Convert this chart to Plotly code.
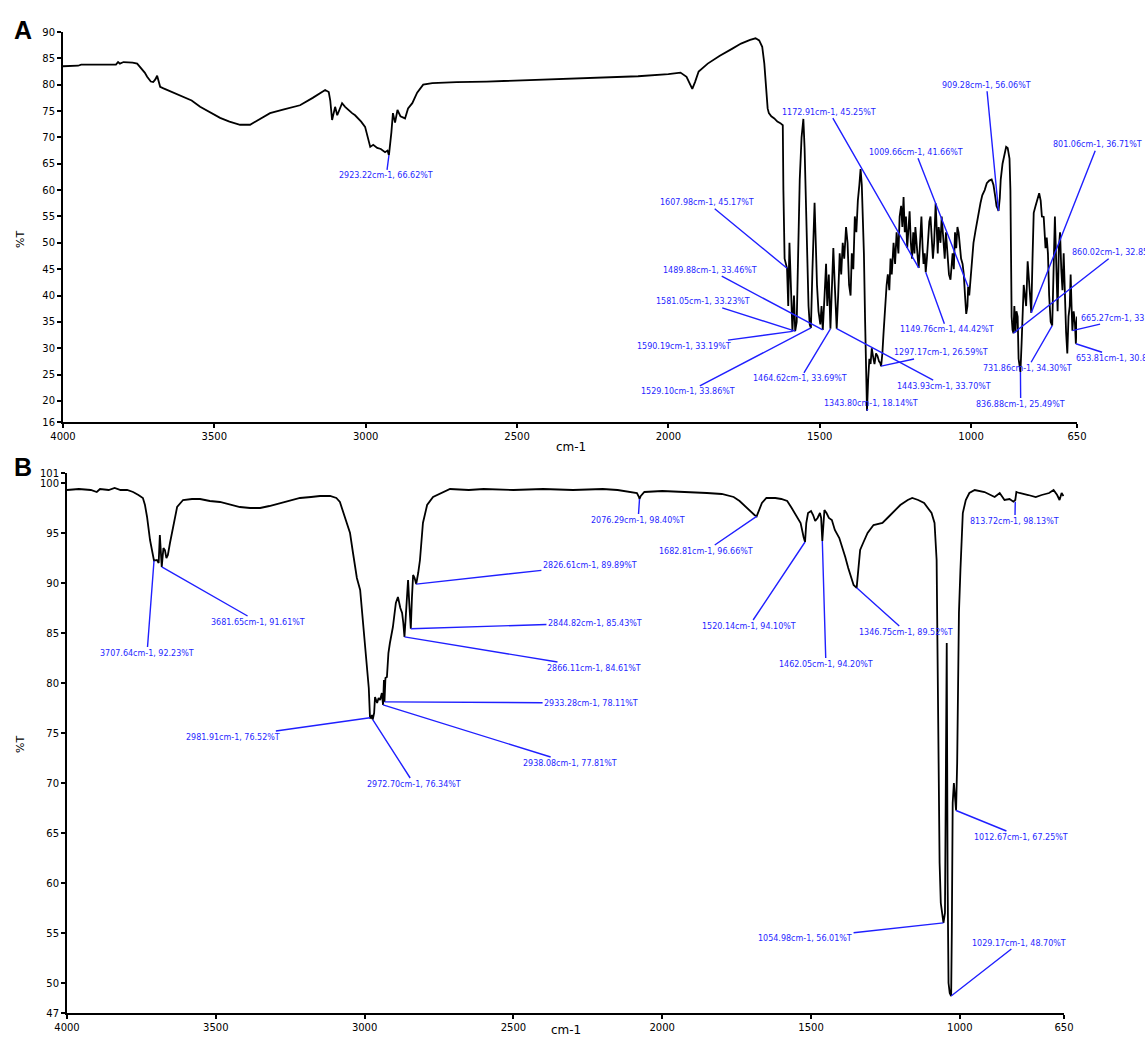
import plotly.graph_objects as go

# ---------------- Spectrum A ----------------
a_wavenumber = [
    4000, 3950, 3940, 3825, 3818, 3812, 3800, 3770, 3755, 3745, 3730, 3722, 3710, 3702, 3695, 3689,
    3683, 3679, 3668, 3656, 3630, 3603, 3575, 3547, 3515, 3481, 3450, 3415, 3382, 3350, 3316, 3270,
    3217, 3175, 3134, 3122, 3117, 3111, 3105, 3101, 3094, 3086, 3078, 3068, 3058, 3045, 3035, 3015,
    3002, 2992, 2985, 2975, 2962, 2950, 2936, 2928, 2923.22, 2915, 2910, 2903, 2895, 2885, 2870, 2860,
    2846, 2830, 2810, 2780, 2700, 2600, 2500, 2400, 2300, 2200, 2100, 2000, 1960, 1940, 1930, 1921,
    1912, 1900, 1870, 1830, 1790, 1760, 1730, 1712, 1700, 1690, 1683, 1678, 1672, 1668, 1660, 1650,
    1640, 1630, 1622, 1620, 1616, 1607.98, 1604, 1600, 1596, 1590.19, 1585, 1581.05, 1576, 1572, 1566,
    1560, 1554, 1550, 1546, 1542, 1537, 1533, 1529.10, 1524, 1520, 1517, 1513, 1509, 1504, 1498, 1494,
    1489.88, 1484, 1479, 1475, 1470, 1464.62, 1459, 1455, 1451, 1447, 1443.93, 1439, 1434, 1429, 1424,
    1419, 1413, 1408, 1403, 1398, 1394, 1389, 1384, 1379, 1374, 1369, 1365, 1361, 1358, 1354, 1350,
    1346, 1343.80, 1340, 1336, 1332, 1328, 1324, 1319, 1314, 1309, 1304, 1300, 1297.17, 1293, 1289,
    1284, 1279, 1275, 1270, 1266, 1262, 1256, 1251, 1246, 1240, 1236, 1231, 1227, 1223, 1219, 1215,
    1211, 1207, 1203, 1199, 1195, 1191, 1187, 1184, 1180, 1176, 1172.91, 1168, 1164, 1160, 1157, 1153,
    1149.76, 1146, 1142, 1138, 1134, 1130, 1126, 1122, 1117, 1113, 1110, 1107, 1101, 1097, 1091, 1087,
    1083, 1078, 1073, 1068, 1064, 1061, 1057, 1053, 1049, 1045, 1041, 1037, 1033, 1028, 1024, 1020,
    1016, 1012, 1009.66, 1006, 1002, 998, 992, 985, 978, 969, 963, 955, 948, 940, 932, 926, 920, 916,
    912, 909.28, 905, 902, 896, 890, 884, 879, 873, 870, 868, 866, 863, 860.02, 857, 853, 850, 846, 843,
    836.88, 833, 830, 826, 822, 818, 813, 808, 803, 801.06, 797, 793, 787, 780, 775, 770, 766, 760, 754,
    750, 746, 742, 737, 731.86, 727, 723, 719, 714, 710, 706, 702, 698, 694, 690, 686, 682, 678, 674,
    671, 668, 665.27, 661, 657, 653.81, 650,
]
a_transmittance = [
    83.5, 83.6, 83.8, 83.8, 84.3, 84.0, 84.3, 84.2, 84.0, 83.4, 82.3, 81.5, 80.6, 80.5, 81.0, 81.7,
    80.2, 79.6, 79.3, 79.0, 78.3, 77.7, 77.0, 75.8, 74.8, 73.7, 73.0, 72.4, 72.4, 73.5, 74.6, 75.3,
    76.1, 77.5, 79.0, 78.6, 77.0, 73.3, 75.0, 75.8, 74.2, 75.5, 76.5, 75.8, 75.2, 74.6, 74.2, 73.0,
    72.0, 69.5, 68.2, 68.6, 68.0, 67.8, 67.2, 67.5, 66.62, 71.0, 74.6, 72.8, 75.2, 74.0, 73.6, 75.5,
    76.5, 78.5, 80.0, 80.3, 80.5, 80.6, 80.8, 80.9, 81.1, 81.3, 81.6, 82.0, 82.3, 81.5, 80.2, 79.2,
    80.5, 82.5, 84.0, 85.5, 86.8, 87.8, 88.5, 88.8, 88.4, 87.2, 84.0, 80.5, 75.5, 74.6, 74.0, 73.6,
    73.0, 72.7, 72.3, 60.0, 47.0, 45.17, 38.0, 50.0, 42.0, 33.19, 40.0, 33.23, 35.0, 48.0, 62.0,
    70.0, 73.5, 68.0, 58.0, 46.0, 38.0, 34.5, 33.86, 45.0, 54.0, 57.6, 50.0, 42.0, 37.0, 34.5, 38.0,
    33.46, 40.0, 46.0, 38.0, 44.0, 33.69, 42.0, 49.0, 43.0, 37.0, 33.70, 40.0, 48.0, 44.0, 50.0,
    47.0, 53.0, 50.0, 42.0, 40.0, 48.0, 45.0, 55.0, 52.0, 58.0, 61.0, 64.0, 61.0, 55.0, 48.0, 35.0,
    25.0, 18.14, 24.0, 28.0, 27.0, 30.0, 28.5, 27.0, 29.0, 28.5, 27.5, 27.2, 26.59, 29.0, 33.0,
    39.0, 42.0, 44.0, 41.0, 47.0, 44.0, 50.0, 46.0, 52.0, 48.0, 55.0, 57.0, 53.0, 58.7, 52.0, 55.0,
    49.0, 53.0, 56.0, 50.0, 47.0, 52.0, 48.0, 53.0, 49.0, 47.0, 45.25, 52.0, 55.0, 49.0, 46.0, 48.0,
    44.42, 47.0, 52.0, 54.0, 55.0, 50.0, 47.0, 50.0, 57.5, 52.0, 48.0, 53.0, 50.0, 55.0, 51.0, 47.0,
    52.0, 47.0, 44.0, 43.0, 46.0, 48.0, 45.0, 52.0, 49.0, 53.0, 51.9, 49.0, 47.0, 46.0, 44.0, 40.0,
    36.5, 38.0, 41.66, 40.0, 43.0, 47.0, 50.0, 52.4, 55.0, 57.5, 59.0, 60.0, 61.3, 61.8, 62.0, 61.0, 58.7, 57.0,
    56.5, 56.06, 58.5, 62.0, 65.0, 67.0, 68.2, 68.0, 66.0, 60.0, 45.0, 36.0, 33.5, 32.85, 38.0, 33.0, 37.0, 36.0, 28.0,
    25.49, 31.0, 36.0, 42.0, 40.0, 38.0, 46.5, 42.0, 38.0, 36.71, 47.0, 55.7, 57.0, 58.7, 59.4, 58.0, 55.0, 54.9, 49.0,
    51.0, 48.0, 40.0, 35.0, 34.30, 45.0, 55.0, 47.0, 37.0, 49.0, 52.0, 45.0, 41.0, 48.0, 40.0, 33.0, 29.0, 36.0, 38.0,
    44.0, 38.0, 33.33, 37.0, 35.0, 30.85, 36.0,
]

# labelled peaks of spectrum A
a_peak_wn = [2923.22, 1607.98, 1172.91, 1009.66, 909.28, 801.06, 860.02, 665.27, 653.81, 731.86,
             836.88, 1149.76, 1297.17, 1443.93, 1343.80, 1464.62, 1529.10, 1590.19, 1581.05, 1489.88]
a_peak_t = [66.62, 45.17, 45.25, 41.66, 56.06, 36.71, 32.85, 33.33, 30.85, 34.30,
            25.49, 44.42, 26.59, 33.70, 18.14, 33.69, 33.86, 33.19, 33.23, 33.46]
# where each label text sits (wavenumber, %T)
a_label_wn = [2932, 1871, 1468, 1183, 949, 582, 520, 489, 506, 813,
              836, 1081, 1098, 1088, 1332, 1564, 1934, 1950, 1884, 1861]
a_label_t = [62.7, 57.6, 74.8, 67.2, 79.9, 68.6, 48.1, 35.7, 28.1, 26.2,
             19.4, 33.5, 29.1, 22.8, 19.6, 24.2, 21.7, 30.4, 38.8, 44.8]

# ---------------- Spectrum B ----------------
b_wavenumber = [
    4000, 3960, 3920, 3900, 3889, 3860, 3840, 3820, 3798, 3778, 3760, 3745, 3738, 3731, 3721, 3714,
    3707.64, 3698, 3692, 3688, 3685, 3681.65, 3676, 3671, 3666, 3661, 3654, 3647, 3638, 3630, 3610,
    3580, 3553, 3520, 3486, 3450, 3419, 3385, 3351, 3320, 3284, 3250, 3217, 3180, 3150, 3116, 3095,
    3083, 3066, 3049, 3039, 3032, 3026, 3015, 3005, 2999, 2992, 2986, 2981.91, 2979, 2975, 2972.70,
    2968, 2965, 2958, 2953, 2948, 2942, 2938.08, 2935, 2933.28, 2930, 2925, 2920, 2915, 2905, 2895,
    2888, 2880, 2874, 2870, 2866.11, 2862, 2857, 2854, 2850, 2847, 2844.82, 2841, 2837, 2832, 2829,
    2826.61, 2820, 2814, 2804, 2790, 2770, 2713, 2650, 2600, 2500, 2400, 2300, 2200, 2150, 2100, 2085,
    2078, 2076.29, 2072, 2060, 2000, 1900, 1850, 1800, 1760, 1740, 1720, 1700, 1690, 1682.81, 1675,
    1665, 1650, 1620, 1600, 1580, 1565, 1550, 1535, 1525, 1520.14, 1516, 1510, 1500, 1493, 1486, 1478,
    1470, 1466, 1462.05, 1458, 1455, 1448, 1440, 1430, 1420, 1405, 1395, 1385, 1375, 1365, 1357,
    1346.75, 1340, 1335, 1325, 1310, 1290, 1260, 1240, 1200, 1175, 1160, 1140, 1120, 1095, 1085, 1078,
    1075, 1072, 1068, 1064, 1058, 1054.98, 1050, 1047, 1044, 1041, 1038, 1034, 1029.17, 1027, 1024,
    1020, 1016, 1012.67, 1009, 1006, 1003, 998, 993, 990, 980, 968, 950, 917, 883, 866, 850, 833, 820,
    813.72, 810, 800, 770, 745, 725, 700, 685, 673, 665, 658, 652, 650,
]
b_transmittance = [
    99.3, 99.4, 99.3, 99.1, 99.4, 99.3, 99.5, 99.3, 99.3, 99.1, 98.8, 98.5, 97.8, 96.6, 94.3, 93.0,
    92.23, 92.3, 92.0, 94.8, 93.0, 91.61, 93.5, 93.3, 92.5, 92.8, 94.0, 95.0, 96.5, 97.6, 98.3,
    98.4, 98.4, 98.2, 98.1, 97.8, 97.6, 97.5, 97.5, 97.7, 98.0, 98.3, 98.5, 98.6, 98.7, 98.7, 98.5,
    98.1, 96.6, 95.0, 93.0, 91.6, 90.5, 89.3, 86.0, 84.3, 82.0, 79.5, 76.52, 76.5, 76.8, 76.34,
    77.0, 78.6, 78.0, 78.5, 78.3, 79.0, 77.81, 80.3, 78.11, 80.5, 80.6, 83.0, 84.0, 85.6, 88.0,
    88.6, 87.5, 87.0, 86.0, 84.61, 86.5, 89.0, 90.3, 88.0, 86.5, 85.43, 88.5, 90.8, 90.5, 90.2,
    89.89, 91.0, 92.3, 96.0, 97.8, 98.6, 99.4, 99.3, 99.4, 99.3, 99.4, 99.3, 99.4, 99.3, 99.1, 99.0,
    98.6, 98.40, 98.7, 99.1, 99.2, 99.1, 99.0, 98.9, 98.6, 98.2, 97.6, 97.0, 96.8, 96.66, 97.2,
    98.0, 98.5, 98.5, 98.4, 98.2, 97.5, 96.8, 96.0, 94.6, 94.10, 96.0, 97.0, 97.2, 96.8, 96.2, 96.5,
    97.0, 96.5, 94.20, 96.0, 97.3, 97.0, 96.5, 96.3, 95.3, 94.5, 93.6, 92.6, 91.5, 90.5, 89.8,
    89.52, 92.0, 93.3, 94.0, 95.0, 95.8, 96.0, 96.6, 97.8, 98.3, 98.5, 98.3, 98.0, 97.0, 96.0, 92.3,
    82.0, 72.0, 62.0, 58.0, 56.5, 56.01, 57.0, 70.0, 84.0, 60.0, 50.0, 49.0, 48.70, 55.0, 68.0,
    70.0, 68.0, 67.25, 72.0, 81.3, 87.0, 91.3, 94.6, 97.0, 98.3, 99.0, 99.3, 99.1, 98.6, 99.0, 98.3, 98.4,
    98.13, 98.3, 99.1, 99.0, 98.8, 98.6, 98.8, 99.0, 99.3, 98.8, 98.3, 99.0, 98.7,
]

b_peak_wn = [3707.64, 3681.65, 2826.61, 2844.82, 2866.11, 2933.28, 2938.08, 2972.70, 2981.91,
             2076.29, 1682.81, 1520.14, 1462.05, 1346.75, 813.72, 1012.67, 1054.98, 1029.17]
b_peak_t = [92.23, 91.61, 89.89, 85.43, 84.61, 78.11, 77.81, 76.34, 76.52,
            98.40, 96.66, 94.10, 94.20, 89.52, 98.13, 67.25, 56.01, 48.70]
b_label_wn = [3731, 3358, 2243, 2226, 2229, 2239, 2310, 2834, 3442,
              2081, 1853, 1708, 1450, 1181, 815, 794, 1520, 801]
b_label_t = [83.0, 86.1, 91.8, 86.0, 81.5, 78.0, 72.0, 69.9, 74.6,
             96.3, 93.2, 85.7, 81.9, 85.1, 96.2, 64.6, 54.5, 54.0]

W, H = 1145, 1040
BLUE = "#1f1fff"
FONT = "DejaVu Sans, Liberation Sans, Arial"

fig = go.Figure()
fig.add_trace(go.Scatter(x=a_wavenumber, y=a_transmittance, mode="lines",
                         line=dict(color="black", width=1.8), xaxis="x", yaxis="y",
                         showlegend=False, hoverinfo="skip"))
fig.add_trace(go.Scatter(x=b_wavenumber, y=b_transmittance, mode="lines",
                         line=dict(color="black", width=1.8), xaxis="x2", yaxis="y2",
                         showlegend=False, hoverinfo="skip"))

annotations = []


def peak_labels(wns, ts, lwns, lts, xref, yref):
    for wn, t, lx, ly in zip(wns, ts, lwns, lts):
        annotations.append(dict(
            x=wn, y=t, xref=xref, yref=yref, ax=lx, ay=ly, axref=xref, ayref=yref,
            text=f"{wn:.2f}cm-1, {t:.2f}%T", showarrow=True, arrowhead=0,
            arrowwidth=1.4, arrowcolor=BLUE, standoff=0, startstandoff=0,
            font=dict(family=FONT, size=8, color=BLUE),
        ))


peak_labels(a_peak_wn, a_peak_t, a_label_wn, a_label_t, "x", "y")
peak_labels(b_peak_wn, b_peak_t, b_label_wn, b_label_t, "x2", "y2")


def page_text(txt, px, py, size, angle=0, family=FONT):
    annotations.append(dict(text=txt, x=px / W, y=1 - py / H, xref="paper", yref="paper",
                            xanchor="center", yanchor="middle", textangle=angle, showarrow=False,
                            font=dict(family=family, size=size, color="black")))


# panel letters and axis titles
page_text("<b>A</b>", 23, 30, 25, family="Liberation Sans, Arial")
page_text("<b>B</b>", 23, 467, 25, family="Liberation Sans, Arial")
page_text("%T", 20, 240, 11, angle=-90)
page_text("%T", 20, 745, 11, angle=-90)
page_text("cm-1", 571, 447, 12)
page_text("cm-1", 566, 1030, 12)

x_ticks = [4000, 3500, 3000, 2500, 2000, 1500, 1000, 650]
a_y_ticks = [16] + list(range(20, 91, 5))
b_y_ticks = [47] + list(range(50, 101, 5)) + [101]

tick_font = dict(family=FONT, size=10, color="black")
common_x = dict(range=[4000, 650], tickvals=x_ticks, ticks="outside", ticklen=4, tickwidth=1.5,
                showline=True, linecolor="black", linewidth=2, showgrid=False, zeroline=False,
                tickfont=tick_font, tickcolor="black", automargin=False)
common_y = dict(ticks="outside", ticklen=4, tickwidth=1.5, showline=True, linecolor="black",
                linewidth=2, showgrid=False, zeroline=False, tickfont=tick_font, tickcolor="black",
                automargin=False)

fig.update_layout(
    width=W, height=H, margin=dict(l=0, r=0, t=0, b=0, pad=0, autoexpand=False),
    paper_bgcolor="white", plot_bgcolor="white", showlegend=False,
    xaxis=dict(domain=[63 / W, 1077 / W], anchor="y", **common_x),
    yaxis=dict(domain=[1 - 422 / H, 1 - 32 / H], anchor="x", range=[16, 90], tickvals=a_y_ticks, **common_y),
    xaxis2=dict(domain=[67 / W, 1064 / W], anchor="y2", **common_x),
    yaxis2=dict(domain=[1 - 1013 / H, 1 - 473 / H], anchor="x2", range=[47, 101], tickvals=b_y_ticks, **common_y),
    annotations=annotations,
)

# the page body carries no margin so the figure fills the window exactly
fig.write_html("out.html", post_script="document.body.style.margin='0';document.body.style.overflow='hidden';")
